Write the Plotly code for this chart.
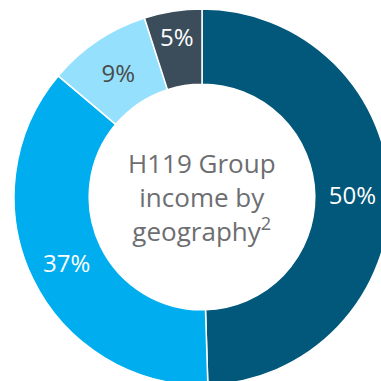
import plotly.graph_objects as go

# Group income split by geography (percent)
regions = ["Region A", "Region B", "Region C", "Region D"]
shares = [50, 37, 9, 5]
slice_colors = ["#02587a", "#00aeef", "#95e1fd", "#3b4d5b"]
label_colors = ["#ffffff", "#ffffff", "#4a4a4a", "#ffffff"]

W, H = 392, 386
cx, cy, r = 202, 197, 188  # pixel centre (from top-left) and outer radius

fig = go.Figure(
    go.Pie(
        labels=regions,
        values=shares,
        hole=0.6,
        sort=False,
        direction="clockwise",
        rotation=0,
        marker=dict(colors=slice_colors, line=dict(color="#ffffff", width=1.5)),
        texttemplate="%{value}%",
        textposition="inside",
        insidetextorientation="horizontal",
        insidetextfont=dict(color=label_colors, size=24, family="Open Sans"),
        showlegend=False,
        hoverinfo="skip",
        domain=dict(
            x=[(cx - r) / W, (cx + r) / W],
            y=[(H - cy - r) / H, (H - cy + r) / H],
        ),
    )
)

fig.add_annotation(
    x=cx / W,
    y=(H - cy) / H,
    xref="paper",
    yref="paper",
    text="H119 Group<br>income by<br>geography<sup>2</sup>",
    showarrow=False,
    font=dict(size=26, color="#6d6e71", family="Open Sans"),
    align="center",
)

fig.update_layout(
    width=W,
    height=H,
    margin=dict(l=0, r=0, t=0, b=0),
    paper_bgcolor="#ffffff",
    plot_bgcolor="#ffffff",
    uniformtext=dict(minsize=24, mode="show"),
)

fig.write_html(
    "out.html",
    config={"displayModeBar": False},
    post_script="document.body.style.margin='0';document.body.style.overflow='hidden';document.documentElement.style.overflow='hidden';",
)
